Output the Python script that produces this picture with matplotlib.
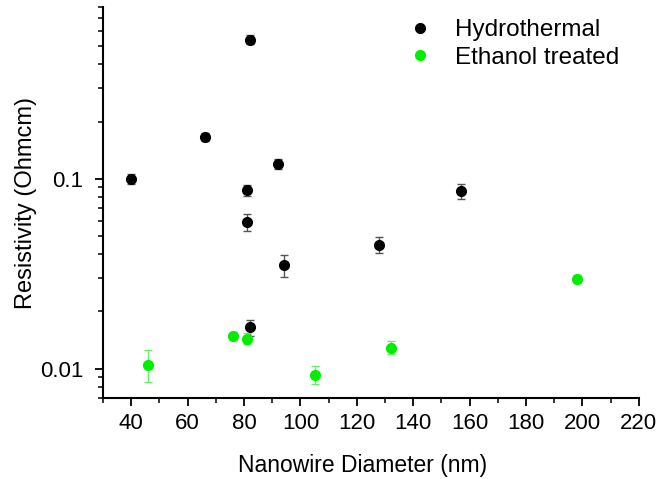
import numpy as np
import matplotlib
matplotlib.use("Agg")
import matplotlib.pyplot as plt
from matplotlib.ticker import LogLocator, FixedLocator, MultipleLocator, NullFormatter

# data
hydro_d = [40, 66, 82, 92, 81, 81, 94, 128, 82, 157]
hydro_r = [0.100, 0.165, 0.54, 0.120, 0.087, 0.059, 0.035, 0.045, 0.0165, 0.086]
hydro_err = [0.006, 0.008, 0.03, 0.007, 0.006, 0.006, 0.0045, 0.0045, 0.0016, 0.008]

eth_d = [46, 76, 81, 105, 132, 198]
eth_r = [0.0105, 0.0149, 0.0144, 0.0093, 0.0129, 0.0296]
eth_err = [0.002, 0.0007, 0.001, 0.001, 0.001, 0.0015]

x_ticks = [40, 60, 80, 100, 120, 140, 160, 180, 200, 220]

plt.rcParams['font.family'] = ['Liberation Sans', 'DejaVu Sans']

fig = plt.figure(figsize=(6.69, 4.79), dpi=100)
ax = fig.add_axes([0.154, 0.169, 0.801, 0.816])

h1 = ax.errorbar(hydro_d, hydro_r, yerr=hydro_err, fmt='o', color='black',
                 ecolor='#555555', elinewidth=1.0, capsize=3, capthick=1.0,
                 markersize=7, label='Hydrothermal')
h2 = ax.errorbar(eth_d, eth_r, yerr=eth_err, fmt='o', color='#00ee00',
                 ecolor='#66ee66', elinewidth=1.0, capsize=3, capthick=1.0,
                 markersize=7, label='Ethanol treated')

ax.set_yscale('log')
ax.set_xlim(30, 220)
ax.set_ylim(0.007, 0.8)

ax.xaxis.set_major_locator(FixedLocator(x_ticks))
ax.xaxis.set_minor_locator(MultipleLocator(10))
ax.yaxis.set_major_locator(FixedLocator([0.01, 0.1]))
ax.set_yticklabels(['0.01', '0.1'])
ax.yaxis.set_minor_locator(LogLocator(base=10, subs=np.arange(2, 10)))
ax.yaxis.set_minor_formatter(NullFormatter())

for s in ['top', 'right']:
    ax.spines[s].set_visible(False)
for s in ['left', 'bottom']:
    ax.spines[s].set_linewidth(1.5)

ax.tick_params(which='major', direction='out', length=6, width=1.3, labelsize=16, pad=5)
ax.tick_params(axis='y', which='major', pad=8)
ax.tick_params(which='minor', direction='out', length=3.5, width=1.1)

ax.set_xlabel('Nanowire Diameter (nm)', fontsize=16.5)
ax.set_ylabel('Resistivity (Ohmcm)', fontsize=17, labelpad=2)
ax.xaxis.set_label_coords(0.485, -0.142)

ax.legend(handles=[h1[0], h2[0]], labels=['Hydrothermal', 'Ethanol treated'],
          loc='upper right', frameon=False, fontsize=17.5,
          handletextpad=0.45, borderaxespad=0.3, labelspacing=0.23,
          bbox_to_anchor=(0.995, 1.013))

fig.savefig('out.png', dpi=100)
